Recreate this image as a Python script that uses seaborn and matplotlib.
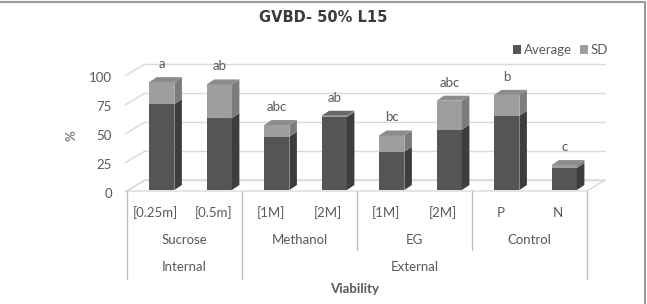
import numpy as np
import pandas as pd
import matplotlib
matplotlib.use("Agg")
import matplotlib.pyplot as plt
import seaborn as sns
from matplotlib.patches import Polygon, Patch
from matplotlib.transforms import IdentityTransform, offset_copy
from matplotlib.lines import Line2D

# ---------------- data ----------------
conc_labels = ["[0.25m]", "[0.5m]", "[1M]", "[2M]", "[1M]", "[2M]", "P", "N"]
treatments = ["Sucrose", "Sucrose", "Methanol", "Methanol", "EG", "EG", "Control", "Control"]
origins = ["Internal", "Internal", "External", "External", "External", "External", "External", "External"]
average = [74, 62, 46, 63, 33, 52, 64, 19]
sd = [19, 29, 10, 1, 14, 25, 18, 2.5]
letters = ["a", "ab", "abc", "ab", "bc", "abc", "b", "c"]
y_ticks = [0, 25, 50, 75, 100]

title = "GVBD- 50% L15"
x_title = "Viability"
y_title = "%"

# ---------------- style ----------------
sns.set_style("white")
plt.rcParams["font.family"] = ["Lato", "DejaVu Sans"]
TXT = "#595959"
GRID = "#d9d9d9"
DARK_FRONT, DARK_SIDE, DARK_TOP = "#555555", "#3d3d3d", "#6a6a6a"
LIGHT_FRONT, LIGHT_SIDE, LIGHT_TOP = "#9e9e9e", "#7c7c7c", "#8c8c8c"

W, H = 647, 304
fig = plt.figure(figsize=(W / 100, H / 100), dpi=100)
fig.patch.set_facecolor("white")

# front plane: x -0.5..7.5 -> px 127..587 ; y 0..100 -> px 191..75
ax = fig.add_axes([127 / W, (H - 191) / H, 460 / W, 116 / H])

keys = [f"{t} {c}" for t, c in zip(treatments, conc_labels)]
df = pd.DataFrame({"key": keys, "avg": average, "sd": sd})
df["total"] = df["avg"] + df["sd"]

sns.barplot(data=df, x="key", y="total", order=keys, color=LIGHT_FRONT,
            saturation=1, width=0.44, ax=ax, zorder=3)
n_light = len(ax.patches)
sns.barplot(data=df, x="key", y="avg", order=keys, color=DARK_FRONT,
            saturation=1, width=0.44, ax=ax, zorder=4)
ax.set_xlim(-0.5, len(keys) - 0.5)
ax.set_ylim(0, 100)
ax.axis("off")

fig.canvas.draw()

# depth geometry in pixels
FLOOR_DX, FLOOR_DY = 18, 11      # back wall offset
BAR_SHIFT_X, BAR_SHIFT_Y = 6, 1  # bars set back from the front plane
BAR_DX, BAR_DY = 7.5, 5          # bar depth

td = ax.transData
bar_trans = offset_copy(td, fig=fig, x=BAR_SHIFT_X, y=BAR_SHIFT_Y, units="dots")
for p in ax.patches:
    p.set_transform(bar_trans)
    p.set_edgecolor("none")
    p.set_clip_on(False)

light_bars = ax.patches[:n_light]
dark_bars = ax.patches[n_light:n_light * 2]


def disp(tr, x, y):
    return tr.transform((x, y))


def add_poly(pts, color, z, edge="none", lw=0):
    ax.add_artist(Polygon(pts, closed=True, facecolor=color, edgecolor=edge, lw=lw,
                          transform=IdentityTransform(), zorder=z, clip_on=False))


def add_line(a, b, z=1):
    ax.add_artist(Line2D([a[0], b[0]], [a[1], b[1]], color=GRID, lw=1.0,
                         transform=IdentityTransform(), zorder=z, clip_on=False))


xl, xr = -0.5, len(keys) - 0.5
# floor
fl = disp(td, xl, 0); fr = disp(td, xr, 0)
floor = [fl, fr, fr + [FLOOR_DX, FLOOR_DY], fl + [FLOOR_DX, FLOOR_DY]]
add_poly(floor, "white", 0.5, edge=GRID, lw=1.0)
# back wall gridlines + left wall diagonals
for v in y_ticks:
    a = disp(td, xl, v); b = disp(td, xr, v)
    bl = a + [FLOOR_DX, FLOOR_DY]; br = b + [FLOOR_DX, FLOOR_DY]
    add_line(bl, br)
    add_line(a + [-2, -1], bl)
    ax.annotate(str(v), (xl, v), xytext=(-15, -3), textcoords="offset pixels",
                ha="right", va="center", fontsize=9.5, color=TXT, annotation_clip=False)

# 3D bar faces
for i, (lp, dp) in enumerate(zip(light_bars, dark_bars)):
    x0 = lp.get_x(); w = lp.get_width()
    tot = lp.get_height(); av = dp.get_height()
    # dark side
    p0 = disp(bar_trans, x0 + w, 0); p1 = disp(bar_trans, x0 + w, av)
    add_poly([p0, p1, p1 + [BAR_DX, BAR_DY], p0 + [BAR_DX, BAR_DY]], DARK_SIDE, 5)
    # light side
    q1 = disp(bar_trans, x0 + w, tot)
    add_poly([p1, q1, q1 + [BAR_DX, BAR_DY], p1 + [BAR_DX, BAR_DY]], LIGHT_SIDE, 5)
    # top cap
    t0 = disp(bar_trans, x0, tot)
    add_poly([t0, q1, q1 + [BAR_DX, BAR_DY], t0 + [BAR_DX, BAR_DY]],
             LIGHT_TOP if sd[i] > 1.5 else DARK_TOP, 5)
    # significance letter
    ax.annotate(letters[i], (x0 + w / 2, tot), xytext=(BAR_SHIFT_X, 19),
                textcoords="offset pixels", ha="center", va="center",
                fontsize=9.5, color=TXT, annotation_clip=False)

# ---------------- multi-level category axis ----------------
xt = ax.get_xaxis_transform()


def yax(py):
    return (191 - py) / 116


def vline(x, py_end):
    ax.plot([x, x], [0, yax(py_end)], transform=xt, color="#bfbfbf", lw=1.0,
            clip_on=False, zorder=2)


for x in [-0.5, 1.5, 7.5]:
    vline(x, 279)
for x in [3.5, 5.5]:
    vline(x, 250)

for i, lab in enumerate(conc_labels):
    ax.text(i, yax(213), lab, transform=xt, ha="center", va="center",
            fontsize=9.5, color=TXT)

groups_order = []
for t in treatments:
    if t not in groups_order:
        groups_order.append(t)
for g in groups_order:
    idx = [i for i, t in enumerate(treatments) if t == g]
    ax.text(np.mean(idx), yax(240), g, transform=xt, ha="center", va="center",
            fontsize=9.5, color=TXT)

orig_order = []
for o in origins:
    if o not in orig_order:
        orig_order.append(o)
for o in orig_order:
    idx = [i for i, t in enumerate(origins) if t == o]
    ax.text((min(idx) + max(idx)) / 2, yax(267), o, transform=xt, ha="center",
            va="center", fontsize=9.5, color=TXT)

fig.text(355 / W, 1 - 289 / H, x_title, ha="center", va="center", fontsize=9.5,
         fontweight="bold", color=TXT)
fig.text(72 / W, 1 - 136 / H, y_title, ha="center", va="center", fontsize=9.5,
         fontweight="bold", color="#7f7f7f", rotation=90)

# title
fig.text(0.5, 1 - 18 / H, title, ha="center", va="center", fontsize=10.5,
         fontweight="bold", color="#3a3a3a", family="DejaVu Sans")

# legend
handles = [Patch(facecolor=DARK_FRONT, edgecolor="none"),
           Patch(facecolor=LIGHT_FRONT, edgecolor="none")]
ax.legend(handles, ["Average", "SD"], loc="center right",
          bbox_to_anchor=(608 / W, 1 - 50 / H), bbox_transform=fig.transFigure,
          ncol=2, frameon=False, fontsize=9.5, handlelength=0.6, handleheight=0.6,
          handletextpad=0.2, columnspacing=0.6, borderaxespad=0, borderpad=0,
          labelcolor=TXT)

# outer frame (top and right edges visible)
fig.add_artist(Line2D([0, 645 / W], [1 - 2 / H, 1 - 2 / H], color="#999999", lw=1.5,
                      transform=fig.transFigure))
fig.add_artist(Line2D([645 / W, 645 / W], [1 - 2 / H, 0], color="#999999", lw=1.5,
                      transform=fig.transFigure))

fig.savefig("out.png", dpi=100, facecolor="white")
